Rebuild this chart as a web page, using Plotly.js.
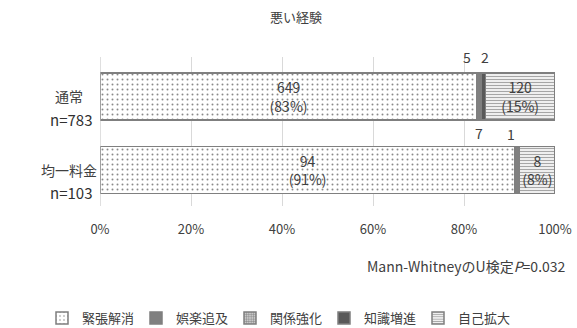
<!DOCTYPE html>
<html>
<head>
<meta charset="utf-8">
<script src="https://cdn.plot.ly/plotly-3.0.1.min.js"></script>
<style>
  html, body { margin: 0; padding: 0; background: #fff; }
  #chart { width: 577px; height: 328px; }
</style>
</head>
<body>
<div id="chart"></div>
<script>
// Response groups and their sample sizes
const categories = ['通常', '均一料金'];
const sampleSizes = [783, 103];

// Counts for each motive, per group
const seriesNames = ['緊張解消', '娯楽追及', '関係強化', '知識増進', '自己拡大'];
const kinchoKaisho = [649, 94];
const gorakuTsuikyu = [5, 1];
const kankeiKyoka = [2, 0];
const chishikiZoshin = [7, 0];
const jikoKakudai = [120, 8];

const xTickVals = [0, 20, 40, 60, 80, 100];
const xTickText = ['0%', '20%', '40%', '60%', '80%', '100%'];
const testNote = 'Mann-WhitneyのU検定<i>P</i>=0.032';
const chartTitle = '悪い経験';

const FONT = '"Noto Sans CJK JP", "Noto Sans", sans-serif';
const TEXT = '#404040';
const EDGE = '#7f7f7f';
const BAR_W = 0.64;

const allSeries = [kinchoKaisho, gorakuTsuikyu, kankeiKyoka, chishikiZoshin, jikoKakudai];

const pct = (v, i) => Math.round(100 * v / sampleSizes[i]);
const countLabel = arr => arr.map((v, i) => v + '<br>(' + pct(v, i) + '%)');

const styles = [
  { color: '#fff', pattern: { shape: '.', bgcolor: '#ffffff', fgcolor: '#8a8a8a', size: 5, solidity: 0.12 } },
  { color: '#808080' },
  { color: '#b0b0b0', pattern: { shape: '+', bgcolor: '#c8c8c8', fgcolor: '#7a7a7a', size: 3, solidity: 0.3 } },
  { color: '#595959' },
  { color: '#fff', pattern: { shape: '-', bgcolor: '#ffffff', fgcolor: '#a6a6a6', size: 3, solidity: 0.45 } }
];

const traces = allSeries.map((vals, k) => {
  const t = {
    type: 'bar',
    orientation: 'h',
    name: seriesNames[k],
    y: categories,
    x: vals,
    width: BAR_W,
    marker: Object.assign({}, styles[k], { line: { color: EDGE, width: 1.5 } }),
    hoverinfo: 'x+name'
  };
  if (k === 0 || k === 4) {
    t.text = countLabel(vals);
    t.textposition = 'inside';
    t.insidetextanchor = 'middle';
    t.constraintext = 'none';
    t.textangle = 0;
    t.textfont = { family: FONT, size: 14, color: TEXT };
  } else {
    t.textposition = 'none';
  }
  return t;
});

// Labels for the thin segments, placed just outside the bars
function segCenter(seriesIdx, catIdx) {
  let before = 0;
  for (let s = 0; s < seriesIdx; s++) before += allSeries[s][catIdx];
  const v = allSeries[seriesIdx][catIdx];
  return 100 * (before + v / 2) / sampleSizes[catIdx];
}
const smallLabels = [
  { s: 1, c: 0, dx: -12, dy: 39 },
  { s: 2, c: 0, dx: 4, dy: 39 },
  { s: 3, c: 0, dx: -4, dy: -37 },
  { s: 1, c: 1, dx: -6, dy: 36 }
];
const annotations = smallLabels.map(o => ({
  x: segCenter(o.s, o.c), y: categories[o.c], xref: 'x', yref: 'y',
  text: String(allSeries[o.s][o.c]), showarrow: false,
  xshift: o.dx, yshift: o.dy,
  font: { family: FONT, size: 14, color: TEXT }
}));

// Two-line category labels
categories.forEach((c, i) => {
  annotations.push({
    x: 0, y: c, xref: 'paper', yref: 'y', xanchor: 'center',
    xshift: -31, yshift: 0,
    text: c, showarrow: false,
    font: { family: FONT, size: 14, color: TEXT }
  });
  annotations.push({
    x: 0, y: c, xref: 'paper', yref: 'y', xanchor: 'center',
    xshift: -29, yshift: -23,
    text: 'n=' + sampleSizes[i], showarrow: false,
    font: { family: FONT, size: 15, color: '#303030' }
  });
});

const M = { l: 100, r: 22, t: 57, b: 122 };
const plotW = 577 - M.l - M.r;
const plotH = 328 - M.t - M.b;
const px2paperX = px => (px - M.l) / plotW;
const px2paperY = py => (328 - M.b - py) / plotH;

// Statistical test note under the axis
annotations.push({
  x: px2paperX(568), y: px2paperY(266),
  xref: 'paper', yref: 'paper', xanchor: 'right', yanchor: 'middle',
  text: testNote, showarrow: false,
  font: { family: FONT, size: 14, color: TEXT }
});

const layout = {
  width: 577,
  height: 328,
  margin: Object.assign({ autoexpand: false }, M),
  paper_bgcolor: '#fff',
  plot_bgcolor: '#fff',
  barmode: 'stack',
  barnorm: 'percent',
  title: {
    text: chartTitle,
    x: 0.513, xref: 'container', xanchor: 'center',
    y: 0.948, yref: 'container', yanchor: 'middle',
    font: { family: FONT, size: 13, color: TEXT }
  },
  xaxis: {
    range: [0, 100],
    tickvals: xTickVals,
    ticktext: xTickText,
    showgrid: true,
    gridcolor: '#d9d9d9',
    gridwidth: 1,
    zeroline: false,
    showline: false,
    ticks: '',
    ticklabelstandoff: 14,
    tickfont: { family: FONT, size: 13, color: TEXT },
    fixedrange: true
  },
  yaxis: {
    range: [1.49, -0.537],
    showticklabels: false,
    showgrid: false,
    zeroline: false,
    showline: false,
    ticks: '',
    fixedrange: true
  },
  showlegend: true,
  legend: {
    orientation: 'h',
    xref: 'paper', yref: 'paper',
    x: px2paperX(42), xanchor: 'left',
    y: px2paperY(318), yanchor: 'middle',
    entrywidth: 49, entrywidthmode: 'pixels',
    itemwidth: 30,
    traceorder: 'normal',
    font: { family: FONT, size: 13, color: TEXT }
  },
  annotations: annotations,
  shapes: [{
    type: 'line', xref: 'x', yref: 'paper',
    x0: 0, x1: 0, y0: 0, y1: 1,
    line: { color: '#bfbfbf', width: 1 }
  }]
};

Plotly.newPlot('chart', traces, layout, { displayModeBar: false, staticPlot: true });
</script>
</body>
</html>
